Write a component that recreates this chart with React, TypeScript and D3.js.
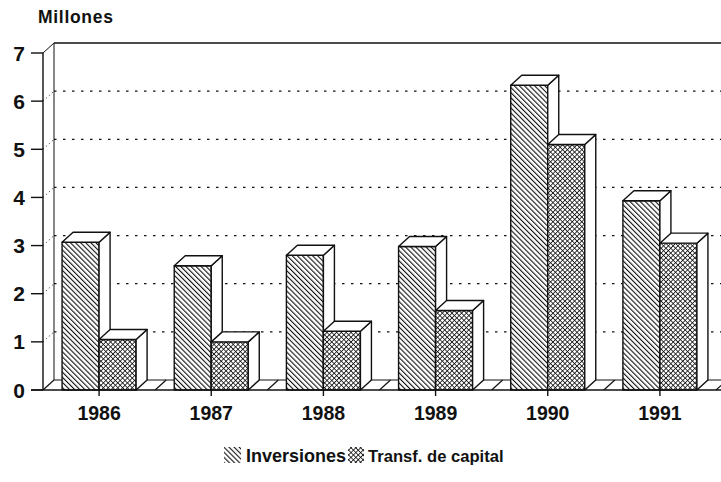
import * as d3 from 'd3'

const categories = ['1986', '1987', '1988', '1989', '1990', '1991']
const inversiones = [3.07, 2.58, 2.8, 2.98, 6.33, 3.93]
const transferencias = [1.05, 1.0, 1.22, 1.65, 5.1, 3.05]
const seriesNames = ['Inversiones', 'Transf. de capital']
const yTicks = [0, 1, 2, 3, 4, 5, 6, 7]

const W = 721
const H = 482
const DX = 11
const DY = -10
const FONT = "'Liberation Sans', Arial, sans-serif"

export default function App() {
  const x = d3.scaleBand<string>()
    .domain(categories)
    .range([43, 716])
    .paddingInner(0.34)
    .paddingOuter(0.17)
  const inner = d3.scaleBand<string>()
    .domain(seriesNames)
    .range([0, x.bandwidth()])
  const y = d3.scaleLinear().domain([0, 7]).range([390, 53])

  const fills = ['url(#diag)', 'url(#cross)']
  const values = [inversiones, transferencias]
  const x0 = 43
  const step = x.step()
  const boundaries = d3.range(categories.length + 1).map(i => x0 + i * step)

  const bar = (cat: string, s: number) => {
    const v = values[s][categories.indexOf(cat)]
    const bx = x(cat)! + inner(seriesNames[s])!
    const bw = inner.bandwidth()
    const top = y(v)
    const bot = y(0)
    return (
      <g key={cat + s} stroke="#111" strokeWidth={1.4} strokeLinejoin="round">
        <rect x={bx} y={top} width={bw} height={bot - top} fill={fills[s]} />
        <path d={`M${bx + bw},${top}L${bx + bw + DX},${top + DY}L${bx + bw + DX},${bot + DY}L${bx + bw},${bot}Z`} fill="#fff" />
        <path d={`M${bx},${top}L${bx + DX},${top + DY}L${bx + bw + DX},${top + DY}L${bx + bw},${top}Z`} fill="#fff" />
      </g>
    )
  }

  return (
    <svg width={W} height={H} style={{ position: 'absolute', left: 0, top: 0, background: '#fff' }}>
      <defs>
        <pattern id="diag" patternUnits="userSpaceOnUse" width={3.6} height={3.6} patternTransform="rotate(-45)">
          <rect width={3.6} height={3.6} fill="#fff" />
          <line x1={0} y1={0} x2={0} y2={3.6} stroke="#111" strokeWidth={2.2} />
        </pattern>
        <pattern id="cross" patternUnits="userSpaceOnUse" width={3.4} height={3.4} patternTransform="rotate(45)">
          <rect width={3.4} height={3.4} fill="#fff" />
          <line x1={0} y1={0} x2={0} y2={3.4} stroke="#111" strokeWidth={1.6} />
          <line x1={0} y1={0} x2={3.4} y2={0} stroke="#111" strokeWidth={1.6} />
        </pattern>
      </defs>

      <text x={38} y={23} fontFamily={FONT} fontWeight="bold" fontSize={17.5} letterSpacing={0.7} fill="#111">Millones</text>

      {/* back wall */}
      <g stroke="#111" fill="none">
        <line x1={x0 + DX} y1={y(7) + DY} x2={W} y2={y(7) + DY} strokeWidth={1.3} />
        <line x1={x0 + DX} y1={y(7) + DY} x2={x0 + DX} y2={y(0) + DY} strokeWidth={1} />
        <line x1={x0} y1={y(7)} x2={x0 + DX} y2={y(7) + DY} strokeWidth={1} />
        {yTicks.filter(t => t > 0 && t < 7).map(t => (
          <g key={t}>
            <line x1={x0 + DX} y1={y(t) + DY} x2={W} y2={y(t) + DY} strokeWidth={1.3} strokeDasharray="2.5,6.5" />
            <line x1={x0} y1={y(t)} x2={x0 + DX} y2={y(t) + DY} strokeWidth={1} strokeDasharray="1,3" />
          </g>
        ))}
      </g>

      {/* floor */}
      <g stroke="#111" fill="none" strokeWidth={1.2}>
        <line x1={x0 + DX} y1={y(0) + DY} x2={W} y2={y(0) + DY} />
        {boundaries.map((b, i) => (
          <line key={i} x1={b} y1={y(0)} x2={b + DX} y2={y(0) + DY} />
        ))}
      </g>

      {/* bars */}
      {categories.map(c => (
        <g key={c}>
          {bar(c, 0)}
          {bar(c, 1)}
        </g>
      ))}

      {/* front axes */}
      <g stroke="#111" fill="none" strokeWidth={1.4}>
        <line x1={x0} y1={y(7)} x2={x0} y2={y(0)} />
        <line x1={31} y1={y(0)} x2={W} y2={y(0)} />
        {yTicks.map(t => (
          <line key={t} x1={31} y1={y(t)} x2={x0} y2={y(t)} />
        ))}
        {categories.map(c => (
          <line key={c} x1={x(c)! + x.bandwidth() / 2} y1={y(0)} x2={x(c)! + x.bandwidth() / 2} y2={y(0) + 6} />
        ))}
      </g>

      {yTicks.map(t => (
        <text key={t} x={25} y={y(t) + 7.5} textAnchor="end" fontFamily={FONT} fontWeight="bold" fontSize={21} fill="#111">{t}</text>
      ))}

      {categories.map(c => (
        <text key={c} x={x(c)! + x.bandwidth() / 2} y={420} textAnchor="middle" fontFamily={FONT} fontWeight="bold" fontSize={19.5} fill="#111">{c}</text>
      ))}

      {/* legend */}
      <rect x={224} y={447} width={17} height={16} fill="url(#diag)" />
      <text x={246} y={462} fontFamily={FONT} fontWeight="bold" fontSize={18} fill="#111">{seriesNames[0]}</text>
      <rect x={348} y={447} width={16} height={16} fill="url(#cross)" />
      <text x={368} y={462} fontFamily={FONT} fontWeight="bold" fontSize={16.6} fill="#111">{seriesNames[1]}</text>
    </svg>
  )
}
